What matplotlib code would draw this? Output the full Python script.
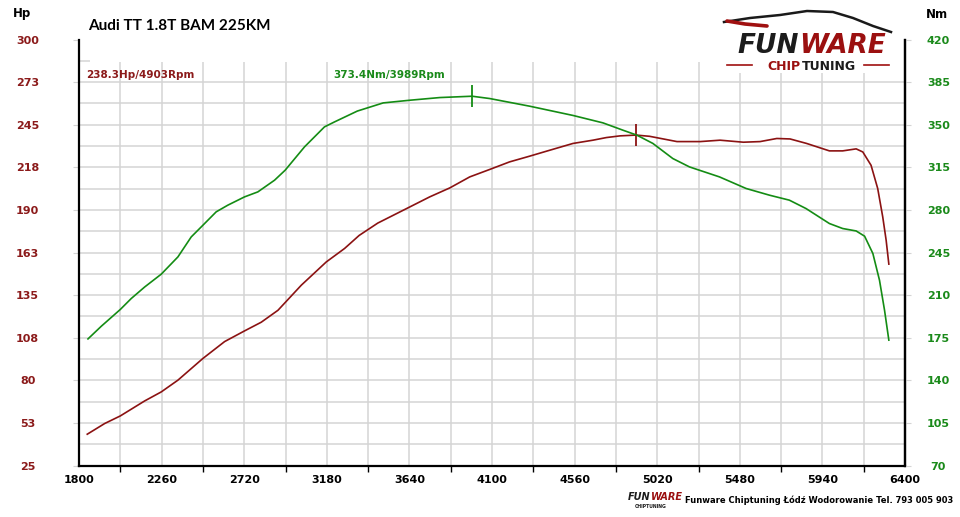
import matplotlib
matplotlib.use("Agg")
import matplotlib.pyplot as plt
from matplotlib.lines import Line2D
from matplotlib.patches import Rectangle

# ---------------- data ----------------
hp_rpm = [1846, 1943, 2030, 2166, 2258, 2351, 2490, 2611, 2722, 2815, 2908, 3038,
          3177, 3279, 3360, 3464, 3642, 3753, 3865, 3976, 4087, 4198, 4310, 4421,
          4551, 4662, 4737, 4814, 4903, 4978, 5130, 5259, 5370, 5500, 5593, 5686,
          5760, 5852, 5979, 6053, 6128, 6165, 6211, 6248, 6276, 6295, 6310]
hp_val = [45.2, 52.1, 57.0, 66.7, 72.5, 80.1, 94.1, 105.0, 111.9, 117.5, 125.2, 141.4,
          156.4, 165.1, 173.5, 181.5, 191.9, 198.4, 204.2, 211.3, 216.1, 221.0, 224.7, 228.5,
          232.9, 235.0, 236.7, 237.8, 238.3, 237.5, 234.1, 234.1, 235.0, 233.7, 234.1, 236.1,
          235.8, 232.9, 228.1, 228.1, 229.4, 227.4, 218.8, 203.8, 185.5, 170.4, 155.0]

nm_rpm = [1850, 1924, 2030, 2091, 2166, 2258, 2351, 2425, 2490, 2564, 2629, 2722,
          2796, 2889, 2948, 3056, 3167, 3223, 3350, 3494, 3642, 3809, 3989, 4087,
          4310, 4551, 4718, 4829, 4907, 4996, 5107, 5200, 5367, 5515, 5645, 5756,
          5849, 5979, 6053, 6128, 6175, 6221, 6258, 6286, 6310]
nm_val = [174.0, 184.4, 198.2, 207.2, 216.7, 227.2, 241.4, 257.8, 267.4, 278.4, 283.9, 290.7,
          294.8, 304.4, 312.6, 331.8, 348.2, 352.3, 361.2, 367.9, 370.1, 372.3, 373.4, 371.5,
          365.2, 357.6, 351.5, 345.5, 341.4, 334.6, 322.2, 315.3, 307.1, 297.6, 292.1, 288.0,
          281.1, 268.8, 264.7, 262.7, 258.4, 244.2, 222.2, 197.6, 173.0]

hp_peak = (4903, 238.3)
nm_peak = (3989, 373.4)

x_ticks = [1800, 2260, 2720, 3180, 3640, 4100, 4560, 5020, 5480, 5940, 6400]
x_minor = [2030, 2490, 2950, 3410, 3870, 4330, 4790, 5250, 5710, 6170]
hp_ticks = [25, 52.5, 80, 107.5, 135, 162.5, 190, 217.5, 245, 272.5, 300]
hp_labels = ["25", "53", "80", "108", "135", "163", "190", "218", "245", "273", "300"]
nm_ticks = [70, 105, 140, 175, 210, 245, 280, 315, 350, 385, 420]
nm_labels = ["70", "105", "140", "175", "210", "245", "280", "315", "350", "385", "420"]

title = "Audi TT 1.8T BAM 225KM"
footer = "Funware Chiptuning \u0141\u00f3d\u017a Wodorowanie Tel. 793 005 903"

# ---------------- style ----------------
RED = "#8b1212"
RED_TXT = "#8b1a1a"
GREEN = "#148c14"
GREEN_TXT = "#1a8a1a"
GRID = "#d4d4d4"
W, H = 960, 517

def fx(x):
    return x / W

def fy(y):
    return 1 - y / H

fig = plt.figure(figsize=(9.6, 5.17), dpi=100)
fig.patch.set_facecolor("white")
ax = fig.add_axes([fx(79), fy(465.5), (905 - 79) / W, (465.5 - 39.5) / H])
ax.set_xlim(1800, 6400)
ax.set_ylim(25, 300)
ax.set_facecolor("white")

# grid
grid_x = x_minor + x_ticks[1:-1]
ax.vlines(grid_x, 25, 285.5, color=GRID, lw=1.1, zorder=0)
grid_y = [25 + 13.75 * k for k in range(1, 19)]
ax.hlines(grid_y, 1800, 6400, color=GRID, lw=1.1, zorder=0)

# spines
for s in ["left", "right", "bottom"]:
    ax.spines[s].set_color("black")
    ax.spines[s].set_linewidth(1.6)
ax.spines["top"].set_visible(False)

# x ticks
ax.set_xticks(x_ticks)
ax.set_xticklabels([str(v) for v in x_ticks], fontsize=8, fontweight="bold",
                   family="DejaVu Sans", color="black")
ax.set_xticks(x_minor, minor=True)
ax.tick_params(axis="x", which="major", length=0, pad=7)
ax.tick_params(axis="x", which="minor", length=4, direction="out", color="black", width=1)

# left y ticks
ax.set_yticks(hp_ticks)
ax.set_yticklabels(hp_labels, fontsize=8, fontweight="bold", family="DejaVu Sans", color=RED_TXT)
ax.set_yticks([286.25], minor=True)
ax.tick_params(axis="y", which="major", left=True, right=False, length=4,
               direction="out", color=GRID, pad=33)
ax.tick_params(axis="y", which="minor", left=True, right=True, length=8,
               direction="in", color=GRID, width=1.1)
for lbl in ax.get_yticklabels():
    lbl.set_ha("center")

# red curve
ax.plot(hp_rpm, hp_val, color=RED, lw=1.2, zorder=3)
ax.vlines([hp_peak[0]], hp_peak[1] - 7, hp_peak[1] + 7, color=RED, lw=1.3, zorder=4)

# right axis
ax2 = ax.twinx()
ax2.set_ylim(70, 420)
for s in ["left", "top", "bottom"]:
    ax2.spines[s].set_visible(False)
ax2.spines["right"].set_color("black")
ax2.spines["right"].set_linewidth(1.6)
ax2.set_yticks(nm_ticks)
ax2.set_yticklabels(nm_labels, fontsize=8, fontweight="bold", family="DejaVu Sans", color=GREEN_TXT)
ax2.tick_params(axis="y", which="major", right=True, left=False, length=4,
                direction="out", color=GRID, pad=20)
for lbl in ax2.get_yticklabels():
    lbl.set_ha("center")
ax2.plot(nm_rpm, nm_val, color=GREEN, lw=1.2, zorder=3)
ax2.vlines([nm_peak[0]], nm_peak[1] - 9, nm_peak[1] + 9, color=GREEN, lw=1.3, zorder=4)

# annotations
fig.text(fx(86), fy(75), f"{hp_peak[1]}Hp/{hp_peak[0]}Rpm", color=RED_TXT, fontsize=7.5,
         fontweight="bold", family="DejaVu Sans", ha="left", va="center")
fig.text(fx(333), fy(75), f"{nm_peak[1]}Nm/{nm_peak[0]}Rpm", color=GREEN_TXT, fontsize=7.5,
         fontweight="bold", family="DejaVu Sans", ha="left", va="center")

# title and axis units
fig.text(fx(88), fy(26), title, fontsize=11, fontweight="bold", family="Lato",
         ha="left", va="center", color="black")
fig.text(fx(22), fy(13), "Hp", fontsize=8.5, fontweight="bold", family="DejaVu Sans",
         ha="center", va="center", color="black")
fig.text(fx(937), fy(15), "Nm", fontsize=8.5, fontweight="bold", family="DejaVu Sans",
         ha="center", va="center", color="black")

# ---------------- logo (top right) ----------------
fig.add_artist(Rectangle((fx(716), fy(73)), (893 - 716) / W, 73 / H,
                         transform=fig.transFigure, facecolor="white", edgecolor="none",
                         zorder=5))
# car silhouette
sx = [724, 750, 780, 807, 833, 853, 873, 891]
sy = [22, 18, 15, 11, 12, 18, 26, 32]
fig.add_artist(Line2D([fx(v) for v in sx], [fy(v) for v in sy], color="#1a1a1a", lw=1.8,
                      transform=fig.transFigure, zorder=6))
rx = [727, 745, 767]
ry = [21, 24, 26]
fig.add_artist(Line2D([fx(v) for v in rx], [fy(v) for v in ry], color="#a01010", lw=2.6,
                      transform=fig.transFigure, zorder=6, solid_capstyle="round"))
fig.text(fx(798.5), fy(53), "FUN", fontsize=19, fontweight="bold", style="italic",
         family="DejaVu Sans", color="#1c1c1c", ha="right", va="baseline", zorder=7)
fig.text(fx(799.5), fy(53), "WARE", fontsize=19, fontweight="bold", style="italic",
         family="DejaVu Sans", color="#9b1010", ha="left", va="baseline", zorder=7)
fig.text(fx(800), fy(70), "CHIP", fontsize=9, fontweight="bold",
         family="DejaVu Sans", color="#9b1010", ha="right", va="baseline", zorder=7)
fig.text(fx(801.5), fy(70), "TUNING", fontsize=9, fontweight="bold",
         family="DejaVu Sans", color="#1c1c1c", ha="left", va="baseline", zorder=7)
fig.add_artist(Line2D([fx(727), fx(752)], [fy(65), fy(65)], color="#a01010", lw=1.2,
                      transform=fig.transFigure, zorder=7))
fig.add_artist(Line2D([fx(864), fx(889)], [fy(65), fy(65)], color="#a01010", lw=1.2,
                      transform=fig.transFigure, zorder=7))

# ---------------- footer ----------------
fig.text(fx(650), fy(497), "FUN", fontsize=7, fontweight="bold", style="italic",
         family="DejaVu Sans", color="#1c1c1c", ha="right", va="center")
fig.text(fx(650.5), fy(497), "WARE", fontsize=7, fontweight="bold", style="italic",
         family="DejaVu Sans", color="#9b1010", ha="left", va="center")
fig.text(fx(651), fy(507), "CHIPTUNING", fontsize=3.3, fontweight="bold",
         family="DejaVu Sans", color="#1c1c1c", ha="center", va="center")
fig.text(fx(685), fy(500), footer, fontsize=6.0, fontweight="bold", family="DejaVu Sans",
         ha="left", va="center", color="black")

fig.savefig("out.png", dpi=100, facecolor="white")
